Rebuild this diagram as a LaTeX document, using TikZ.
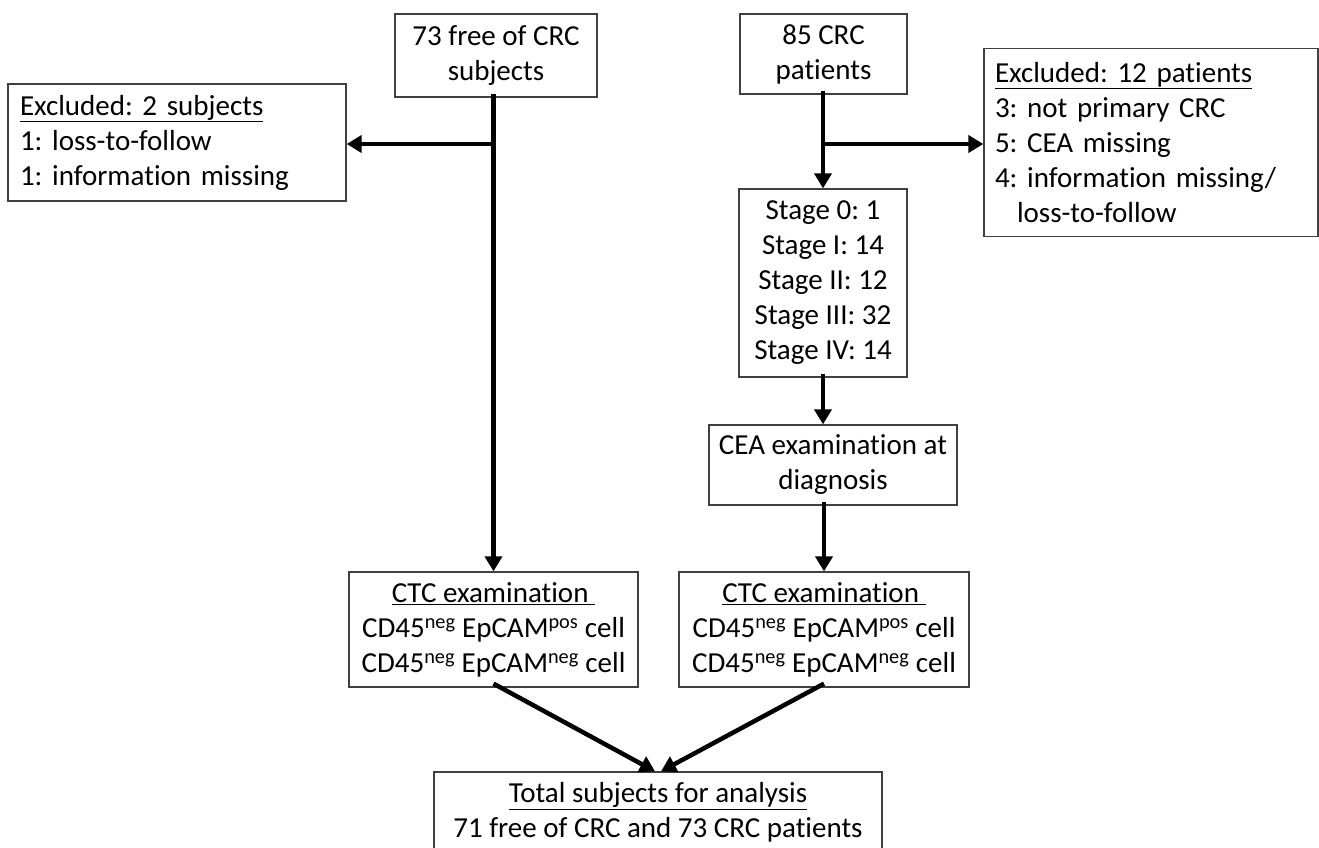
\documentclass[tikz,border=0pt]{standalone}
\usepackage{fontspec}
\setmainfont{Carlito}[Ligatures=NoCommon]
\usetikzlibrary{arrows.meta}
\frenchspacing
\begin{document}
\begin{tikzpicture}[x=1pt,y=-1pt,
  box/.style={draw=black!75,line width=1.3pt,inner sep=0pt,font=\fontsize{29}{35}\selectfont\frenchspacing},
  arr/.style={line width=4.5pt,-{Triangle[length=15pt,width=17pt]}}]
\useasboundingbox (0,0) rectangle (1319,847);
\node[box,minimum width=202pt,minimum height=83pt,align=center] (A) at (496,55.5) {73 free of CRC\\subjects};
\node[box,minimum width=338pt,minimum height=117pt,align=left,text width=314pt] (exL) at (177,142.5) {\underline{Excluded: 2 subjects}\\1: loss-to-follow\\1: information missing};
\node[box,minimum width=167pt,minimum height=80pt,align=center] (B) at (823.5,54) {85 CRC\\patients};
\node[box,minimum width=334pt,minimum height=188pt,align=left,text width=312pt] (exR) at (1151,142.5) {\underline{Excluded: 12 patients}\\3: not primary CRC\\5: CEA missing\\4: information missing/\\\hspace*{22pt}loss-to-follow};
\node[box,minimum width=168pt,minimum height=188pt,align=center] (stage) at (823,283) {Stage 0: 1\\Stage I: 14\\Stage II: 12\\Stage III: 32\\Stage IV: 14};
\node[box,minimum width=248pt,minimum height=80pt,align=center] (CEA) at (833,465) {CEA examination at\\diagnosis};
\node[box,minimum width=289pt,minimum height=115pt,align=center] (CTC1) at (493.5,629.5) {\underline{CTC examination\ }\\CD45\textsuperscript{neg} EpCAM\textsuperscript{pos} cell\\CD45\textsuperscript{neg} EpCAM\textsuperscript{neg} cell};
\node[box,minimum width=290pt,minimum height=115pt,align=center] (CTC2) at (824,629.5) {\underline{CTC examination\ }\\CD45\textsuperscript{neg} EpCAM\textsuperscript{pos} cell\\CD45\textsuperscript{neg} EpCAM\textsuperscript{neg} cell};
\node[box,minimum width=448pt,minimum height=81pt,align=center] (T) at (658,812.5) {\underline{Total subjects for analysis}\\71 free of CRC and 73 CRC patients};
\coordinate (j1) at (493,144);
\coordinate (j2) at (823,144);
\draw[arr] ([yshift=4pt]A.south -| CTC1.north) -- (CTC1.north);
\draw[arr] (j1) -- (j1 -| exL.east);
\draw[arr] ([yshift=4pt]B.south -| stage.north) -- (stage.north);
\draw[arr] (j2) -- (j2 -| exR.west);
\draw[arr] ([yshift=4pt]stage.south) -- (stage.south |- CEA.north);
\draw[arr] ([yshift=4pt]CEA.south -| CTC2.north) -- (CTC2.north);
\draw[arr] ([yshift=4pt]CTC1.south) -- ([xshift=-3pt]T.north);
\draw[arr] ([yshift=4pt]CTC2.south) -- ([xshift=3pt]T.north);
\end{tikzpicture}
\end{document}
